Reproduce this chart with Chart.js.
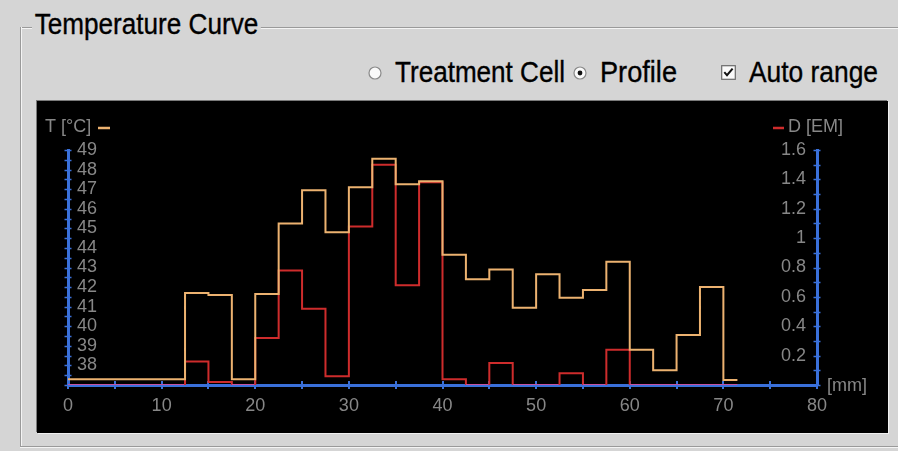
<!DOCTYPE html>
<html>
<head>
<meta charset="utf-8">
<script src="https://cdn.jsdelivr.net/npm/chart.js@4.4.1/dist/chart.umd.min.js"></script>
<style>
  html, body { margin:0; padding:0; width:898px; height:451px; overflow:hidden; background:#d5d5d5; }
  body { position:relative; font-family:"Liberation Sans Narrow","Liberation Sans",Arial,sans-serif; color:#000; }
  .etch-h { position:absolute; height:1px; background:#9a9a9a; box-shadow:0 1px 0 #f4f4f4; }
  .etch-v { position:absolute; width:1px; background:#9a9a9a; box-shadow:1px 0 0 #f4f4f4; }
  .lbl { position:absolute; white-space:nowrap; font-size:29px; line-height:29px; transform-origin:left top;
         -webkit-text-stroke:0.35px #000; }
  #title { background:#d5d5d5; padding:0 3px; }
  .ui { position:absolute; }
  #plot { position:absolute; left:37px; top:101px; width:851px; height:332px; background:#000;
          box-shadow: -1px -1px 0 #7a7a7a, 1px 1px 0 #f0f0f0; }
  #plot canvas { display:block; }
</style>
</head>
<body>
<div class="etch-h" style="left:20px;top:27px;width:878px;"></div>
<div class="etch-v" style="left:20px;top:27px;height:419px;"></div>
<div class="etch-h" style="left:20px;top:446px;width:878px;"></div>

<div id="title" class="lbl" data-w="229" style="left:32px;top:10px;">Temperature Curve</div>

<svg class="ui" style="left:368px;top:66px" width="14" height="14" viewBox="0 0 14 14">
  <circle cx="7" cy="7" r="6" fill="#fafafa" stroke="#8a8a8a" stroke-width="1.2"/>
</svg>
<div class="lbl" data-w="170" style="left:395px;top:58px;">Treatment Cell</div>
<svg class="ui" style="left:573px;top:66px" width="14" height="14" viewBox="0 0 14 14">
  <circle cx="7" cy="7" r="6" fill="#fafafa" stroke="#8a8a8a" stroke-width="1.2"/>
  <circle cx="7" cy="7" r="2.4" fill="#111"/>
</svg>
<div class="lbl" data-w="77" style="left:600px;top:58px;">Profile</div>
<svg class="ui" style="left:721px;top:65px" width="15" height="15" viewBox="0 0 15 15">
  <rect x="0.7" y="0.7" width="13.6" height="13.6" fill="#fafafa" stroke="#6a6a6a" stroke-width="1.2"/>
  <path d="M3.3 7.2 L6 10.2 L11.6 3.6" fill="none" stroke="#111" stroke-width="2"/>
</svg>
<div class="lbl" data-w="129" style="left:749px;top:58px;">Auto range</div>

<div id="plot"><canvas id="c" width="851" height="332"></canvas></div>

<script>
// ---------------- data ----------------
// start of each profile bin along the depth axis [mm]
const binStart = [0, 12.5, 15, 17.5, 20, 22.5, 25, 27.5, 30, 32.5, 35, 37.5, 40,
                  42.5, 45, 47.5, 50, 52.5, 55, 57.5, 60, 62.5, 65, 67.5, 70];
const profileEnd = 71.5;
// temperature T [°C] per bin
const temperature = [37.3, 41.7, 41.6, 37.3, 41.65, 45.25, 46.95, 44.8, 47.1, 48.55, 47.25, 47.4, 43.65,
                     42.4, 42.9, 40.95, 42.65, 41.45, 41.85, 43.3, 38.8, 37.75, 39.55, 42.0, 37.25];
// dose D [EM] per bin
const dose = [0, 0.16, 0.02, 0, 0.32, 0.78, 0.52, 0.06, 1.08, 1.50, 0.68, 1.38, 0.04,
              0, 0.15, 0, 0, 0.08, 0, 0.24, 0, 0, 0, 0, 0];
// axis ranges / tick steps
const xRange = [0, 80], xStep = 5, xLabelEvery = 10;
const tRange = [37, 49], tStep = 0.5;
const dRange = [0, 1.6], dStep = 0.1;

// ---------------- fit UI text widths ----------------
document.querySelectorAll('.lbl').forEach(el => {
  const w = el.getBoundingClientRect().width;
  const target = parseFloat(el.dataset.w);
  el.style.transform = 'scaleX(' + (target / w) + ')';
});

// ---------------- build step profiles ----------------
function stepPoints(values) {
  const pts = [];
  for (let i = 0; i < binStart.length; i++) {
    const end = i + 1 < binStart.length ? binStart[i + 1] : profileEnd;
    pts.push({x: binStart[i], y: values[i]});
    pts.push({x: end, y: values[i]});
  }
  return pts;
}

const ORANGE = 'rgb(236,178,112)';
const RED = 'rgb(206,44,44)';
const ZERO = 'rgb(196,82,160)';
const BLUE = 'rgb(58,112,218)';
const GREY = '#878787';
const tickFont = {family: '"Liberation Sans", Arial, sans-serif', size: 18};

const crossTicks = {
  id: 'crossTicks',
  beforeDatasetsDraw(chart) {
    const c = chart.ctx;
    c.save();
    c.strokeStyle = BLUE;
    const xs = chart.scales.x, yt = chart.scales.yT, yd = chart.scales.yD;
    c.lineWidth = 2;
    xs.ticks.forEach(t => {
      const px = Math.round(xs.getPixelForValue(t.value));
      c.beginPath(); c.moveTo(px, xs.top - 4); c.lineTo(px, xs.top + 4); c.stroke();
    });
    c.lineWidth = 1.5;
    [[yt, yt.right], [yd, yd.left]].forEach(([s, ax]) => {
      s.ticks.forEach(t => {
        const py = Math.round(s.getPixelForValue(t.value)) + 0.5;
        c.beginPath(); c.moveTo(ax - 3.5, py); c.lineTo(ax + 3.5, py); c.stroke();
      });
    });
    c.restore();
  },
  afterDraw(chart) {
    const c = chart.ctx, a = chart.chartArea;
    c.save();
    c.font = '18px "Liberation Sans", Arial, sans-serif';
    c.fillStyle = GREY;
    c.textBaseline = 'middle';
    c.textAlign = 'left';
    const ty = a.top - 23;
    c.fillText('T [°C]', a.left - 23, ty);
    c.fillText('D [EM]', a.right - 29, ty);
    c.fillText('[mm]', a.right + 10, a.bottom + 1);
    c.lineWidth = 2.5;
    c.strokeStyle = ORANGE;
    c.beginPath(); c.moveTo(a.left + 30, ty + 1); c.lineTo(a.left + 42, ty + 1); c.stroke();
    c.strokeStyle = RED;
    c.beginPath(); c.moveTo(a.right - 44, ty + 1); c.lineTo(a.right - 33, ty + 1); c.stroke();
    c.restore();
  }
};

function isMultiple(v, m) { return Math.abs(v / m - Math.round(v / m)) < 1e-6; }

new Chart(document.getElementById('c'), {
  type: 'line',
  data: {
    datasets: [
      { label: 'T [°C]', data: stepPoints(temperature), yAxisID: 'yT',
        borderColor: ORANGE, borderWidth: 2, pointRadius: 0, tension: 0, fill: false },
      { label: 'D [EM]', data: stepPoints(dose), yAxisID: 'yD',
        borderColor: RED, borderWidth: 2, pointRadius: 0, tension: 0, fill: false,
        segment: { borderColor: s => (s.p0.parsed.y === 0 && s.p1.parsed.y === 0) ? ZERO : undefined } }
    ]
  },
  options: {
    responsive: false, animation: false, devicePixelRatio: 1,
    layout: { padding: { left: 31, right: 71, top: 49, bottom: 0 } },
    plugins: { legend: { display: false }, tooltip: { enabled: false } },
    scales: {
      x: {
        type: 'linear', position: 'bottom', min: xRange[0], max: xRange[1],
        afterFit: s => { s.height = 48; },
        grid: { display: false, drawTicks: false },
        border: { display: true, color: BLUE, width: 3 },
        ticks: { stepSize: xStep, autoSkip: false, maxRotation: 0, padding: 10, color: GREY, font: tickFont,
                 maxTicksLimit: 100,
                 callback: v => isMultiple(v, xLabelEvery) ? String(v) : '' }
      },
      yT: {
        type: 'linear', position: 'left', min: tRange[0], max: tRange[1],
        afterFit: s => { s.width = 0; },
        grid: { display: false, drawTicks: false },
        border: { display: true, color: BLUE, width: 3 },
        ticks: { mirror: true, stepSize: tStep, autoSkip: false, padding: 9, color: GREY, font: tickFont,
                 maxTicksLimit: 100,
                 callback: v => (isMultiple(v, 1) && v > tRange[0]) ? String(v) : '' }
      },
      yD: {
        type: 'linear', position: 'right', min: dRange[0], max: dRange[1],
        afterFit: s => { s.width = 0; },
        grid: { display: false, drawTicks: false },
        border: { display: true, color: BLUE, width: 3 },
        ticks: { mirror: true, stepSize: dStep, autoSkip: false, padding: -11, color: GREY, font: tickFont,
                 maxTicksLimit: 100,
                 callback: v => (isMultiple(v, 0.2) && v > 0) ? (isMultiple(v, 1) ? String(Math.round(v)) : v.toFixed(1)) : '' }
      }
    }
  },
  plugins: [crossTicks]
});
</script>
</body>
</html>
